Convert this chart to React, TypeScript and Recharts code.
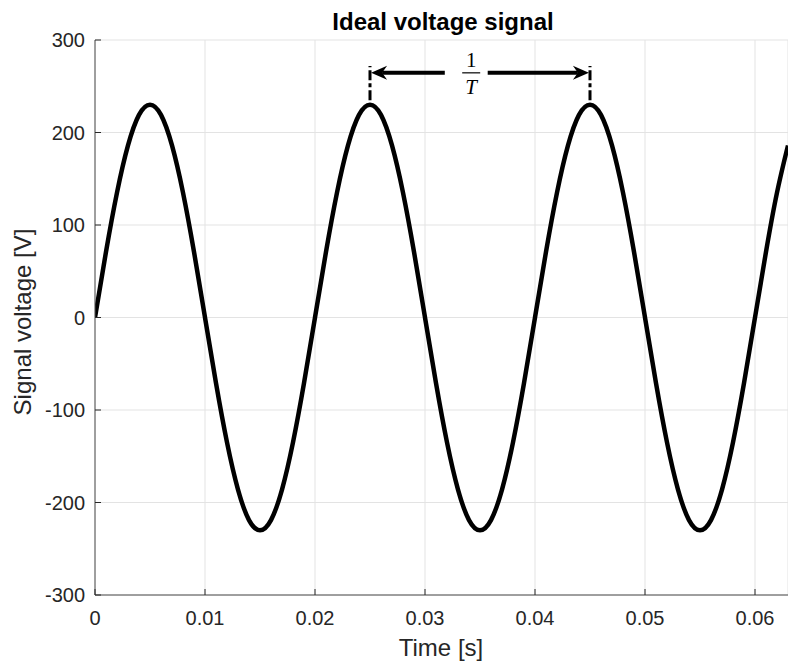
import React from 'react';
import { ComposedChart, Line, XAxis, YAxis, CartesianGrid, ReferenceLine, ReferenceDot } from 'recharts';

const SAMPLE_STEP_S = 0.001;
const voltage = [
  0, 71, 135, 186, 219, 230, 219, 186, 135, 71,
  0, -71, -135, -186, -219, -230, -219, -186, -135, -71,
  0, 71, 135, 186, 219, 230, 219, 186, 135, 71,
  0, -71, -135, -186, -219, -230, -219, -186, -135, -71,
  0, 71, 135, 186, 219, 230, 219, 186, 135, 71,
  0, -71, -135, -186, -219, -230, -219, -186, -135, -71,
  0, 71, 135, 186,
];

const xTicks = [0, 0.01, 0.02, 0.03, 0.04, 0.05, 0.06];
const xTickLabels = ['0', '0.01', '0.02', '0.03', '0.04', '0.05', '0.06'];
const yTicks = [-300, -200, -100, 0, 100, 200, 300];
const yTickLabels = ['-300', '-200', '-100', '0', '100', '200', '300'];

// Period annotation (data units)
const markerTimes = [0.025, 0.045];
const markerRange = [235, 272];
const arrowLevel = 264.5;
const leftArrow = [0.0318, 0.0251];
const rightArrow = [0.0357, 0.0449];
const fractionCenter = 0.0342;

const data = voltage.map((v, i) => ({ t: Math.round(i * SAMPLE_STEP_S * 1000) / 1000, v }));

const FONT = '"Liberation Sans", Arial, Helvetica, sans-serif';
const TEXT = '#262626';

const XTick = (props: any) => {
  const { x, y, payload } = props;
  const idx = xTicks.indexOf(payload.value);
  return (
    <g>
      <line x1={x} y1={y} x2={x} y2={y - 6} stroke="#262626" strokeWidth={1} />
      <text x={x} y={y + 30} textAnchor="middle" fontFamily={FONT} fontSize={20} fill={TEXT}>
        {idx >= 0 ? xTickLabels[idx] : payload.value}
      </text>
    </g>
  );
};

const YTick = (props: any) => {
  const { x, y, payload } = props;
  const idx = yTicks.indexOf(payload.value);
  return (
    <g>
      <line x1={x} y1={y} x2={x + 6} y2={y} stroke="#262626" strokeWidth={1} />
      <text x={x - 10} y={y} dy="0.36em" textAnchor="end" fontFamily={FONT} fontSize={20} fill={TEXT}>
        {idx >= 0 ? yTickLabels[idx] : payload.value}
      </text>
    </g>
  );
};

const ArrowShape = (props: any) => {
  const { x1, y1, x2, y2 } = props;
  const dir = Math.sign(x2 - x1) || 1;
  const L = 16;
  const W = 7;
  const notch = 5;
  const baseX = x2 - dir * L;
  return (
    <g>
      <line x1={x1} y1={y1} x2={baseX + dir * notch} y2={y2} stroke="#000" strokeWidth={4} />
      <polygon
        points={`${x2},${y2} ${baseX},${y2 - W} ${baseX + dir * notch},${y2} ${baseX},${y2 + W}`}
        fill="#000"
      />
    </g>
  );
};

const FractionShape = (props: any) => {
  const { cx, cy } = props;
  return (
    <g>
      <text x={cx} y={cy - 6} textAnchor="middle" fontFamily='"Liberation Serif", "DejaVu Serif", serif' fontSize={21} fill="#000">
        1
      </text>
      <line x1={cx - 9} y1={cy} x2={cx + 9} y2={cy} stroke="#000" strokeWidth={1.2} />
      <text x={cx} y={cy + 21} textAnchor="middle" fontFamily='"Liberation Serif", "DejaVu Serif", serif' fontStyle="italic" fontSize={21} fill="#000">
        T
      </text>
    </g>
  );
};

export default function App() {
  return (
    <div style={{ position: 'absolute', left: 0, top: 0, width: 788, height: 661, background: '#fff' }}>
      <ComposedChart
        width={788}
        height={661}
        data={data}
        margin={{ top: 40, right: 0, bottom: 0, left: 0 }}
      >
        <CartesianGrid stroke="#e3e3e3" strokeWidth={1} />
        <XAxis
          dataKey="t"
          type="number"
          domain={[0, 0.063]}
          ticks={xTicks}
          interval={0}
          height={66}
          tickSize={0}
          tickMargin={0}
          tickLine={false}
          axisLine={{ stroke: '#4d4d4d', strokeWidth: 1 }}
          tick={<XTick />}
          allowDataOverflow
        />
        <YAxis
          type="number"
          domain={[-300, 300]}
          ticks={yTicks}
          interval={0}
          width={95}
          tickSize={0}
          tickMargin={0}
          tickLine={false}
          axisLine={{ stroke: '#4d4d4d', strokeWidth: 1 }}
          tick={<YTick />}
        />
        <Line
          type="natural"
          dataKey="v"
          stroke="#000"
          strokeWidth={4.5}
          dot={false}
          isAnimationActive={false}
        />
        {markerTimes.map((mt) => (
          <ReferenceLine
            key={mt}
            segment={[{ x: mt, y: markerRange[0] }, { x: mt, y: markerRange[1] }]}
            stroke="#000"
            strokeWidth={3}
            strokeDasharray="10 3 4 3"
          />
        ))}
        <ReferenceLine
          segment={[{ x: leftArrow[0], y: arrowLevel }, { x: leftArrow[1], y: arrowLevel }]}
          shape={<ArrowShape />}
        />
        <ReferenceLine
          segment={[{ x: rightArrow[0], y: arrowLevel }, { x: rightArrow[1], y: arrowLevel }]}
          shape={<ArrowShape />}
        />
        <ReferenceDot x={fractionCenter} y={arrowLevel} r={0} shape={<FractionShape />} />
      </ComposedChart>
      <svg
        width={788}
        height={661}
        style={{ position: 'absolute', left: 0, top: 0, pointerEvents: 'none' }}
      >
        <text x={443} y={30} textAnchor="middle" fontFamily={FONT} fontWeight="bold" fontSize={24} fill="#000">
          Ideal voltage signal
        </text>
        <text x={441} y={656} textAnchor="middle" fontFamily={FONT} fontSize={24} fill={TEXT}>
          Time [s]
        </text>
        <text
          x={0}
          y={0}
          transform="translate(31, 322) rotate(-90)"
          textAnchor="middle"
          fontFamily={FONT}
          fontSize={24}
          fill={TEXT}
        >
          Signal voltage [V]
        </text>
      </svg>
    </div>
  );
}
